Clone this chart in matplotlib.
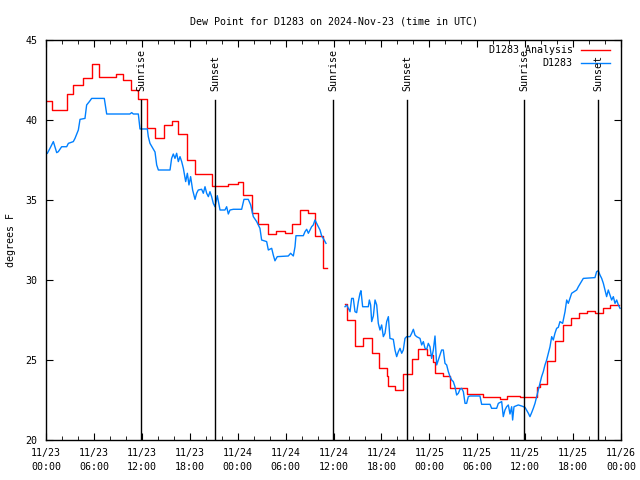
import matplotlib
matplotlib.use("Agg")
import matplotlib.pyplot as plt
import matplotlib.dates as mdates
from matplotlib.lines import Line2D
import pandas as pd

# hours since 2024-11-23 00:00 UTC
start = pd.Timestamp("2024-11-23 00:00")

# D1283 Analysis (red, hourly steps)
red1_h = [0.0, 0.71, 2.59, 3.42, 4.67, 5.72, 6.68, 8.76, 9.68, 10.64, 11.56, 12.6, 13.65,
          14.77, 15.82, 16.57, 17.61, 18.66, 20.74, 22.83, 24.08, 24.71, 25.75, 26.58,
          27.84, 28.8, 29.92, 30.76, 31.8, 32.75, 33.7, 34.64, 35.14]
red1_v = [41.2, 40.65, 41.65, 42.2, 42.65, 43.5, 42.7, 42.85, 42.5, 41.85, 41.3, 39.5, 38.9,
          39.7, 39.95, 39.1, 37.5, 36.6, 35.9, 36.0, 36.1, 35.3, 34.2, 33.5,
          32.9, 33.05, 32.95, 33.5, 34.4, 34.2, 32.75, 30.73, 30.73]
red2_h = [37.44, 37.65, 38.69, 39.74, 40.78, 41.74, 42.66, 42.87, 43.7, 44.74, 45.79, 46.62,
          47.75, 48.4, 48.7, 49.75, 50.59, 52.67, 54.76, 56.85, 57.68, 59.35, 61.52, 61.85,
          62.69, 63.73, 64.69, 65.7, 66.78, 67.7, 68.74, 69.7, 70.62, 71.75]
red2_v = [28.48, 27.5, 25.875, 26.35, 25.42, 24.48, 24.0, 23.375, 23.125, 24.1, 25.06, 25.67,
          25.3, 24.9, 24.17, 24.02, 23.23, 22.85, 22.71, 22.54, 22.75, 22.71, 23.33, 23.5,
          24.96, 26.19, 27.19, 27.6, 27.96, 28.06, 27.96, 28.27, 28.44, 28.44]

# D1283 observations (blue)
blue1_h = [0.17, 0.5, 0.92, 1.34, 1.54, 1.96, 2.59, 2.8, 3.42, 3.63, 4.05, 4.26, 4.88, 5.09,
           5.43, 5.72, 7.3, 7.6, 10.5, 10.73, 10.94, 11.56, 11.77, 12.69, 12.81, 13.02, 13.65,
           13.86, 14.07, 15.53, 15.73, 15.94, 16.15, 16.36, 16.57, 16.78, 16.99, 17.2, 17.49,
           17.7, 17.9, 18.11, 18.36, 18.66, 18.86, 19.07, 19.49, 19.7, 19.91, 20.12, 20.33,
           20.53, 20.74, 20.95, 21.16, 21.45, 21.79, 22.41, 22.62, 22.83, 23.04, 23.46, 24.5,
           24.79, 25.33, 25.63, 25.96, 26.38, 26.79, 27.0, 27.63, 27.84, 28.26, 28.46, 28.67,
           28.96, 30.34, 30.63, 30.97, 31.18, 31.3, 32.22, 32.43, 32.64, 32.85, 33.06, 33.26,
           33.47, 33.68, 33.89, 34.1, 34.31, 34.52, 34.72, 35.06]
blue1_v = [37.92, 38.23, 38.65, 37.96, 38.02, 38.33, 38.33, 38.54, 38.65, 38.85, 39.375, 40.04,
           40.1, 40.94, 41.15, 41.35, 41.35, 40.375, 40.375, 40.46, 40.375, 40.375, 39.44,
           39.44, 38.96, 38.54, 38.0, 37.19, 36.875, 36.875, 37.6, 37.875, 37.6, 37.92, 37.4,
           37.71, 37.4, 36.98, 36.15, 36.67, 35.94, 36.46, 35.625, 35.04, 35.42, 35.625, 35.67,
           35.42, 35.83, 35.42, 35.21, 35.52, 35.21, 34.79, 34.58, 35.27, 34.375, 34.375, 34.58,
           34.125, 34.375, 34.42, 34.42, 35.04, 35.04, 34.69, 33.96, 33.65, 33.23, 32.5, 32.4,
           31.875, 31.98, 31.56, 31.2, 31.46, 31.5, 31.67, 31.5, 32.08, 32.77, 32.77, 33.02,
           33.17, 32.92, 33.125, 33.33, 33.44, 33.75, 33.54, 33.33, 33.125, 32.75, 32.6, 32.29]
blue2_h = [37.44, 37.65, 37.86, 38.07, 38.27, 38.48, 38.69, 38.9, 39.11, 39.32, 39.44, 39.65,
           40.36, 40.49, 40.65, 40.78, 40.99, 41.2, 41.41, 41.61, 41.82, 42.03, 42.24, 42.45,
           42.66, 42.87, 43.07, 43.49, 43.7, 43.91, 44.12, 44.33, 44.54, 44.74, 44.95, 45.16,
           45.58, 45.79, 46.0, 46.2, 46.41, 46.83, 47.04, 47.25, 47.46, 47.67, 47.87, 48.08,
           48.29, 48.5, 48.71, 48.92, 49.13, 49.34, 49.54, 49.75, 49.96, 50.17, 50.38, 50.59,
           50.8, 51.0, 51.21, 51.42, 51.63, 51.84, 52.05, 52.26, 52.47, 52.67, 52.88, 53.09,
           54.34, 54.55, 55.6, 55.8, 56.43, 56.64, 57.06, 57.26, 57.47, 57.68, 57.89, 58.1,
           58.31, 58.43, 58.6, 59.14, 59.56, 59.98, 60.4, 60.6, 60.81, 61.02, 61.23, 61.44,
           61.65, 61.86, 62.06, 62.27, 62.48, 62.69, 62.9, 63.11, 63.32, 63.52, 63.73, 63.94,
           64.15, 64.36, 64.69, 64.99, 65.2, 65.4, 65.61, 65.82, 66.45, 66.66, 67.28, 68.74,
           68.95, 69.16, 69.37, 69.58, 69.79, 70.0, 70.2, 70.41, 70.62, 70.83, 71.04, 71.25,
           71.46, 71.67, 71.88]
blue2_v = [28.33, 28.44, 28.23, 28.02, 28.85, 28.85, 28.02, 27.96, 28.65, 29.17, 29.33, 28.33,
           28.33, 28.75, 28.44, 27.4, 27.75, 28.75, 28.44, 27.29, 26.875, 27.19, 26.46, 26.67,
           27.4, 27.71, 26.35, 26.29, 25.625, 25.21, 25.52, 25.73, 25.42, 25.625, 26.35, 26.46,
           26.46, 26.67, 26.92, 26.56, 26.46, 26.35, 25.94, 26.15, 25.73, 25.67, 26.04, 25.83,
           25.1, 25.625, 26.5, 24.69, 25.0, 25.31, 25.625, 25.625, 24.79, 24.69, 24.27, 23.96,
           23.75, 23.65, 23.33, 22.81, 22.92, 23.17, 23.23, 23.02, 22.29, 22.29, 22.71, 22.75,
           22.75, 22.23, 22.23, 21.98, 21.98, 22.29, 22.4, 21.46, 21.875, 22.08, 22.19, 21.625,
           22.08, 21.25, 22.08, 22.19, 22.125, 22.04, 21.67, 21.46, 21.71, 21.98, 22.29, 22.71,
           23.125, 23.54, 23.96, 24.27, 24.69, 25.0, 25.42, 25.83, 26.46, 26.25, 26.67, 26.98,
           27.04, 27.4, 27.29, 28.02, 28.75, 28.54, 28.85, 29.17, 29.375, 29.58, 30.1, 30.15,
           30.52, 30.58, 30.31, 30.1, 29.79, 29.375, 28.96, 29.375, 29.06, 28.75, 28.96, 28.54,
           28.75, 28.44, 28.23]

sun_h = [11.94, 21.16, 35.98, 45.25, 59.9, 69.16]
sun_labels = ["Sunrise", "Sunset", "Sunrise", "Sunset", "Sunrise", "Sunset"]

yticks = [20, 25, 30, 35, 40, 45]


def to_time(hours):
    return start + pd.to_timedelta(hours, unit="h")


plt.rcParams["font.family"] = "DejaVu Sans Mono"
plt.rcParams["font.size"] = 7.2

fig = plt.figure(figsize=(6.4, 4.8), dpi=100)
ax = fig.add_axes([46 / 640, 40 / 480, 575 / 640, 400 / 480])

red = "#ff0000"
blue = "#0080ff"

ax.plot(to_time(red1_h), red1_v, color=red, lw=1.0, drawstyle="steps-post")
ax.plot(to_time(red2_h), red2_v, color=red, lw=1.0, drawstyle="steps-post")
ax.plot(to_time(blue1_h), blue1_v, color=blue, lw=1.0)
ax.plot(to_time(blue2_h), blue2_v, color=blue, lw=1.0)

# sunrise / sunset markers
for h, lab in zip(sun_h, sun_labels):
    t = to_time(h)
    ax.axvline(t, ymin=0, ymax=0.85, color="black", lw=1.0)
    ax.text(t, 0.872, lab, rotation=90, ha="center", va="bottom",
            transform=ax.get_xaxis_transform())

ax.set_xlim(start, to_time(72))
ax.set_ylim(20, 45)
ax.set_yticks(yticks)
ax.xaxis.set_major_locator(mdates.HourLocator(byhour=[0, 6, 12, 18]))
ax.xaxis.set_minor_locator(mdates.HourLocator(interval=2))
ax.xaxis.set_major_formatter(mdates.DateFormatter("%m/%d\n%H:%M"))
ax.tick_params(which="major", direction="in", length=5, top=True, right=True, pad=6)
ax.tick_params(which="minor", direction="in", length=3, top=True, right=True)
ax.tick_params(axis="x", pad=6)
for lab in ax.get_xticklabels():
    lab.set_linespacing(1.5)
for s in ax.spines.values():
    s.set_linewidth(1.0)

ax.set_ylabel("degrees F")
ax.yaxis.set_label_coords(-0.052, 0.5)
ax.set_title("Dew Point for D1283 on 2024-Nov-23 (time in UTC)", fontsize=7.2, pad=11)

# legend, gnuplot style (text right-aligned, sample line after)
ax.text(0.916, 0.976, "D1283 Analysis", ha="right", va="center", transform=ax.transAxes)
ax.add_line(Line2D([0.930, 0.981], [0.976, 0.976], color=red, lw=1.0, transform=ax.transAxes))
ax.text(0.916, 0.943, "D1283", ha="right", va="center", transform=ax.transAxes)
ax.add_line(Line2D([0.930, 0.981], [0.943, 0.943], color=blue, lw=1.0, transform=ax.transAxes))

plt.savefig("out.png", dpi=100)
